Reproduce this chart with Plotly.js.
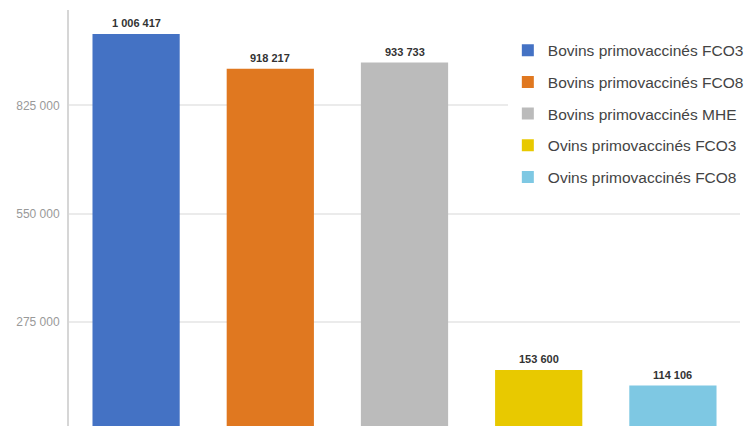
<!DOCTYPE html>
<html>
<head>
<meta charset="utf-8">
<script src="https://cdn.plot.ly/plotly-3.0.1.min.js"></script>
<style>
  html, body { margin: 0; padding: 0; background: #ffffff; }
  #chart { width: 750px; height: 426px; }
</style>
</head>
<body>
<div id="chart"></div>
<script>
// Data
var seriesNames = [
  "Bovins primovaccinés FCO3",
  "Bovins primovaccinés FCO8",
  "Bovins primovaccinés MHE",
  "Ovins primovaccinés FCO3",
  "Ovins primovaccinés FCO8"
];
var seriesValues = [1006417, 918217, 933733, 153600, 114106];
var seriesColors = ["#4472C4", "#E07820", "#BBBBBB", "#E8C900", "#7EC8E3"];
var yTickStep = 275000;

function fmt(v) {
  return v.toString().replace(/\B(?=(\d{3})+(?!\d))/g, " ");
}

var traces = seriesNames.map(function (name, i) {
  return {
    type: "bar",
    name: name,
    x: [i],
    y: [seriesValues[i]],
    width: 0.65,
    marker: { color: seriesColors[i], line: { width: 0 } },
    legendgroup: "g" + i,
    hoverinfo: "name+y"
  };
});

var annotations = seriesValues.map(function (v, i) {
  return {
    x: i, y: v, xref: "x", yref: "y",
    text: "<b>" + fmt(v) + "</b>",
    showarrow: false,
    yanchor: "bottom",
    yshift: 3,
    font: { family: "Liberation Sans, Arial, sans-serif", size: 11, color: "#333333" }
  };
});

var layout = {
  width: 750,
  height: 426,
  margin: { l: 69, r: 10, t: 10, b: 0, autoexpand: false },
  paper_bgcolor: "#ffffff",
  plot_bgcolor: "#ffffff",
  separators: ", ",
  font: { family: "Liberation Sans, Arial, sans-serif", color: "#333333" },
  barmode: "overlay",
  showlegend: true,
  legend: {
    x: 0.654, xanchor: "left",
    y: 0.943, yanchor: "top",
    bgcolor: "#ffffff",
    borderwidth: 0,
    font: { family: "Liberation Sans, Arial, sans-serif", size: 15.5, color: "#444444" },
    traceorder: "grouped",
    tracegroupgap: 8.5
  },
  xaxis: {
    range: [-0.5, 4.5],
    showticklabels: false,
    showgrid: false,
    zeroline: false,
    showline: false,
    ticks: "",
    fixedrange: true
  },
  yaxis: {
    range: [11400, 1067200],
    dtick: yTickStep,
    tick0: 0,
    tickformat: ",",
    showgrid: true,
    gridcolor: "#ebebeb",
    gridwidth: 2,
    zeroline: false,
    showline: true,
    linecolor: "#d6d6d6",
    linewidth: 2,
    ticks: "outside",
    ticklen: 5,
    tickcolor: "rgba(0,0,0,0)",
    tickfont: { family: "Liberation Sans, Arial, sans-serif", size: 12, color: "#999999" },
    fixedrange: true
  },
  annotations: annotations
};

Plotly.newPlot("chart", traces, layout, { displayModeBar: false, staticPlot: true });
</script>
</body>
</html>
